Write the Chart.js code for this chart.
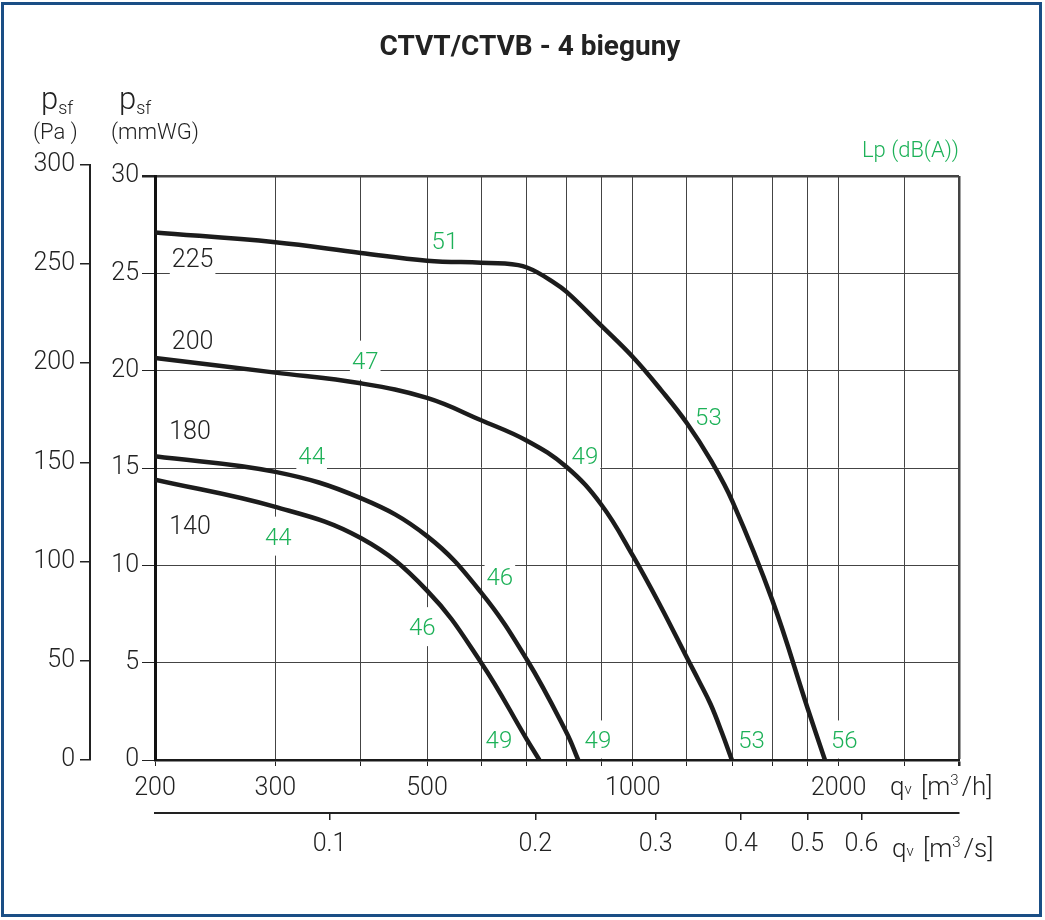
<!DOCTYPE html>
<html>
<head>
<meta charset="utf-8">
<title>CTVT/CTVB - 4 bieguny</title>
<script src="https://cdn.jsdelivr.net/npm/chart.js@4.4.1/dist/chart.umd.min.js"></script>
<style>
  html, body { margin: 0; padding: 0; background: #fff; }
  #wrap { position: relative; width: 1045px; height: 920px; }
  #wrap canvas { position: absolute; left: 0; top: 0; }
  #frame { position: absolute; left: 1px; top: 2px; width: 1041px; height: 915px;
           border: 3px solid #1a4e85; box-sizing: border-box; pointer-events: none; }
</style>
</head>
<body>
<div id="wrap">
  <canvas id="fanChart" width="1045" height="920"></canvas>
  <div id="frame"></div>
</div>
<script>
// fan curves: air flow qv [m3/h] vs static pressure psf [mmWG]
const flow225 = [200, 300, 400, 500, 600, 650, 680, 700, 725, 757, 800, 900, 1000, 1100, 1200, 1300, 1400, 1600, 1800, 1910];
const psf225 = [27.1, 26.6, 26.05, 25.65, 25.55, 25.5, 25.42, 25.3, 25.05, 24.65, 24.05, 22.3, 20.7, 19.0, 17.3, 15.4, 13.25, 8.2, 2.7, 0];

const flow200 = [200, 300, 400, 500, 600, 700, 800, 900, 1000, 1100, 1200, 1250, 1300, 1350, 1396];
const psf200 = [20.65, 19.9, 19.35, 18.6, 17.45, 16.4, 15.05, 13.1, 10.5, 7.85, 5.25, 4.05, 2.85, 1.4, 0];

const flow180 = [200, 300, 400, 500, 600, 700, 800, 832];
const psf180 = [15.6, 14.8, 13.45, 11.5, 8.6, 5.15, 1.4, 0];

const flow140 = [200, 300, 400, 500, 600, 700, 730];
const psf140 = [14.4, 13.0, 11.4, 8.7, 5.0, 1.05, 0];

// axes
const gridFlows = [200, 300, 400, 500, 600, 700, 800, 900, 1000, 1200, 1400, 1600, 1800, 2000, 2500, 3000];
const flowLabels = [200, 300, 500, 1000, 2000];
const flowSecTicks = [0.1, 0.2, 0.3, 0.4, 0.5, 0.6];
const PA_PER_MMWG = 9.81;

// curve names (rpm) and noise levels Lp dB(A), placed at [qv, psf]
const curveNames = ["225", "200", "180", "140"];
const curveNameAt = [[227, 25.8], [227, 21.57], [225, 16.95], [225, 12.07]];
const noiseLabels = ["51", "47", "44", "44", "53", "49", "46", "46", "49", "49", "53", "56"];
const noiseAt = [[531, 26.67], [406, 20.54], [339, 15.66], [303, 11.5], [1290, 17.67], [851, 15.66],
                 [639, 9.45], [492, 6.85], [637, 1.03], [889, 1.03], [1492, 1.03], [2039, 1.03]];

const FONT = 'Roboto, "Open Sans", sans-serif';
const GREEN = "#1db158";
const INK = "#222";

function toPoints(xs, ys) {
  return xs.map((x, i) => ({ x: x, y: ys[i] }));
}

function curve(xs, ys) {
  return {
    data: toPoints(xs, ys),
    borderColor: "#1c1c1c",
    borderWidth: 4.5,
    pointRadius: 0,
    tension: 0.4,
    fill: false,
  };
}

// Pa axis runs a little above the mmWG frame (300 Pa > 30 mmWG)
const paTopPlugin = {
  id: "paTop",
  afterLayout(chart) {
    const s = chart.scales.yPa;
    const area = chart.chartArea;
    s.top = area.top - area.height * (300 / (30 * PA_PER_MMWG) - 1);
    s.configure();
  },
};

function boxedText(ctx, text, x, y, font, color, capH) {
  ctx.font = font;
  const w = ctx.measureText(text).width;
  ctx.fillStyle = "#fff";
  ctx.fillRect(x - w / 2 - 2, y - capH / 2 - 11, w + 4, capH + 22);
  ctx.fillStyle = color;
  ctx.textAlign = "center";
  ctx.textBaseline = "alphabetic";
  ctx.fillText(text, x, y + capH / 2);
}

const labelPlugin = {
  id: "curveLabels",
  beforeDatasetsDraw(chart) {
    const { ctx, chartArea } = chart;
    const sx = chart.scales.x;
    const sy = chart.scales.y;
    ctx.save();
    ctx.beginPath();
    ctx.rect(chartArea.left + 2, chartArea.top + 1.5, chartArea.width - 3, chartArea.height - 3);
    ctx.clip();
    curveNames.forEach((t, i) => {
      boxedText(ctx, t, sx.getPixelForValue(curveNameAt[i][0]), sy.getPixelForValue(curveNameAt[i][1]),
        "300 25px " + FONT, INK, 18);
    });
    noiseLabels.forEach((t, i) => {
      boxedText(ctx, t, sx.getPixelForValue(noiseAt[i][0]), sy.getPixelForValue(noiseAt[i][1]),
        "300 24px " + FONT, GREEN, 17);
    });
    ctx.restore();
  },
  afterDraw(chart) {
    const { ctx, chartArea } = chart;
    ctx.save();
    ctx.fillStyle = INK;
    ctx.textBaseline = "alphabetic";
    ctx.textAlign = "center";
    ctx.font = "bold 28px " + FONT;
    ctx.fillText("CTVT/CTVB - 4 bieguny", 530, 55);

    // axis headings
    ctx.textAlign = "left";
    const head = (x, unit) => {
      ctx.font = "300 31px " + FONT;
      ctx.fillText("p", x, 109);
      const pw = ctx.measureText("p").width;
      ctx.font = "300 18px " + FONT;
      ctx.fillText("sf", x + pw, 114);
      ctx.font = "300 22px " + FONT;
      ctx.fillText(unit, x - 8, 139);
    };
    head(41, "(Pa )");
    head(119, "(mmWG)");

    ctx.fillStyle = GREEN;
    ctx.textAlign = "right";
    ctx.font = "300 22px " + FONT;
    ctx.fillText("Lp (dB(A))", chartArea.right, 157);

    // unit labels of the two flow axes
    const unit = (x, y, per) => {
      const parts = [
        ["q", "300 26px ", 0],
        ["v", "300 15px ", -1],
        [" [m", "300 26px ", 0],
        ["3", "300 15px ", -10],
        ["/" + per + "]", "300 26px ", 0],
      ];
      ctx.fillStyle = INK;
      ctx.textAlign = "left";
      let cx = x;
      parts.forEach(([t, f, dy]) => {
        ctx.font = f + FONT;
        ctx.fillText(t, cx, y + dy);
        cx += ctx.measureText(t).width + (dy < 0 ? 3 : 0);
      });
    };
    unit(890, 795, "h");
    unit(892, 857, "s");
    ctx.restore();
  },
};

const tickFont = { family: FONT, size: 25, weight: 300 };

new Chart(document.getElementById("fanChart"), {
  type: "line",
  data: {
    datasets: [curve(flow225, psf225), curve(flow200, psf200), curve(flow180, psf180), curve(flow140, psf140)],
  },
  options: {
    responsive: false,
    animation: false,
    devicePixelRatio: 1,
    layout: { padding: { left: 20, top: 176, right: 86, bottom: 47 } },
    plugins: { legend: { display: false }, tooltip: { enabled: false }, title: { display: false } },
    scales: {
      x: {
        type: "logarithmic",
        position: "bottom",
        weight: 0,
        min: 200,
        max: 3000,
        afterBuildTicks: (s) => { s.ticks = gridFlows.map((v) => ({ value: v })); },
        afterFit: (s) => { s.height = 53; },
        ticks: {
          autoSkip: false,
          maxRotation: 0,
          padding: 8,
          color: INK,
          font: tickFont,
          callback: (v) => (flowLabels.includes(v) ? String(v) : ""),
        },
        grid: {
          color: "#444",
          lineWidth: (c) => (c.tick && c.tick.value === 3000 ? 2.5 : 1),
          tickLength: 6,
          tickColor: INK,
        },
        border: { color: "#1a1a1a", width: 2.5 },
      },
      xs: {
        type: "logarithmic",
        position: "bottom",
        weight: 1,
        min: 200 / 3600,
        max: 3000 / 3600,
        afterBuildTicks: (s) => { s.ticks = flowSecTicks.map((v) => ({ value: v })); },
        afterFit: (s) => { s.height = 60; },
        ticks: { autoSkip: false, maxRotation: 0, padding: 10, color: INK, font: tickFont, callback: (v) => String(v) },
        grid: { drawOnChartArea: false, tickLength: 7, color: INK, lineWidth: 1.5 },
        border: { color: INK, width: 2 },
      },
      y: {
        position: "left",
        weight: 0,
        min: 0,
        max: 30,
        afterFit: (s) => { s.width = 65; },
        ticks: { stepSize: 5, padding: 3, color: INK, font: tickFont },
        grid: {
          color: "#444",
          lineWidth: (c) => (c.tick && c.tick.value === 30 ? 2.5 : 1),
          tickLength: 13,
          tickColor: INK,
        },
        border: { color: "#111", width: 3 },
      },
      yPa: {
        position: "left",
        weight: 1,
        min: 0,
        max: 300,
        afterFit: (s) => { s.width = 70; },
        ticks: { stepSize: 50, padding: 5, color: INK, font: tickFont },
        grid: { drawOnChartArea: false, tickLength: 10, color: INK, lineWidth: 1.5 },
        border: { color: INK, width: 2 },
      },
    },
  },
  plugins: [paTopPlugin, labelPlugin],
});
</script>
</body>
</html>
